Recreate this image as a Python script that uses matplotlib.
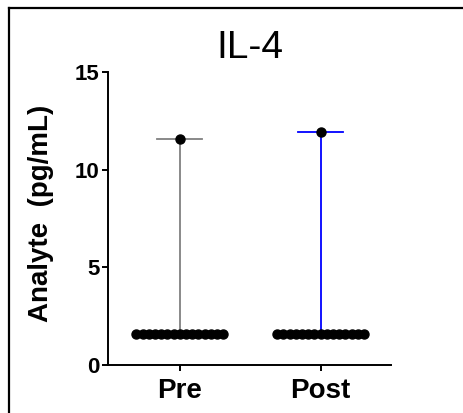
import numpy as np
import matplotlib.pyplot as plt
from matplotlib.lines import Line2D

plt.rcParams['font.family'] = ['Liberation Sans', 'DejaVu Sans']

# datos
grupos = ['Pre', 'Post']
pre = [1.6, 1.6, 1.6, 1.6, 1.6, 1.6, 1.6, 1.6, 1.6, 1.6, 1.6, 1.6, 1.6, 1.6, 1.6, 11.55]
post = [1.6, 1.6, 1.6, 1.6, 1.6, 1.6, 1.6, 1.6, 1.6, 1.6, 1.6, 1.6, 1.6, 1.6, 1.6, 11.95]
colores = ['#808080', '#0000ff']
yticks = [0, 5, 10, 15]

fig = plt.figure(figsize=(4.63, 4.13), dpi=100)
ax = fig.add_axes([108 / 463, 1 - 365 / 413, (391 - 108) / 463, (365 - 72) / 413])

# marco de la figura (solo arriba e izquierda visibles)
fig.add_artist(Line2D([8.5 / 463, 1.0], [1 - 7.5 / 413, 1 - 7.5 / 413], color='black', lw=1.6))
fig.add_artist(Line2D([8.5 / 463, 8.5 / 463], [0, 1 - 7.5 / 413], color='black', lw=1.6))

paso = 0.044
for i, (vals, c) in enumerate(zip([pre, post], colores)):
    vals = np.array(vals)
    med = np.median(vals)
    # mediana con rango
    ax.plot([i, i], [med, vals.max()], color=c, lw=1.3, zorder=1)
    ax.plot([i - 0.16, i + 0.16], [vals.max(), vals.max()], color=c, lw=1.3, zorder=1)
    # puntos: los repetidos en fila
    uniq, cuenta = np.unique(vals, return_counts=True)
    for v, n in zip(uniq, cuenta):
        xs = i + (np.arange(n) - (n - 1) / 2) * paso
        ax.plot(xs, [v] * n, 'o', color='black', markersize=6.5, zorder=2)

ax.set_xlim(-0.51, 1.50)
ax.set_ylim(0, 15)
ax.set_yticks(yticks)
ax.set_xticks(range(len(grupos)))
ax.set_xticklabels(grupos, fontsize=20, fontweight='bold')
for lab in ax.get_yticklabels():
    lab.set_fontsize(16)
    lab.set_fontweight('bold')
ax.spines['top'].set_visible(False)
ax.spines['right'].set_visible(False)
ax.spines['left'].set_linewidth(1.4)
ax.spines['bottom'].set_linewidth(1.4)
ax.tick_params(axis='both', length=4, width=1.4, pad=2)
ax.tick_params(axis='x', pad=5)
ax.set_ylabel('Analyte  (pg/mL)', fontsize=20, fontweight='bold')
ax.yaxis.set_label_coords(-0.19, 0.517)
ax.set_title('IL-4', fontsize=28, pad=10)

fig.savefig('out.png', dpi=100)
